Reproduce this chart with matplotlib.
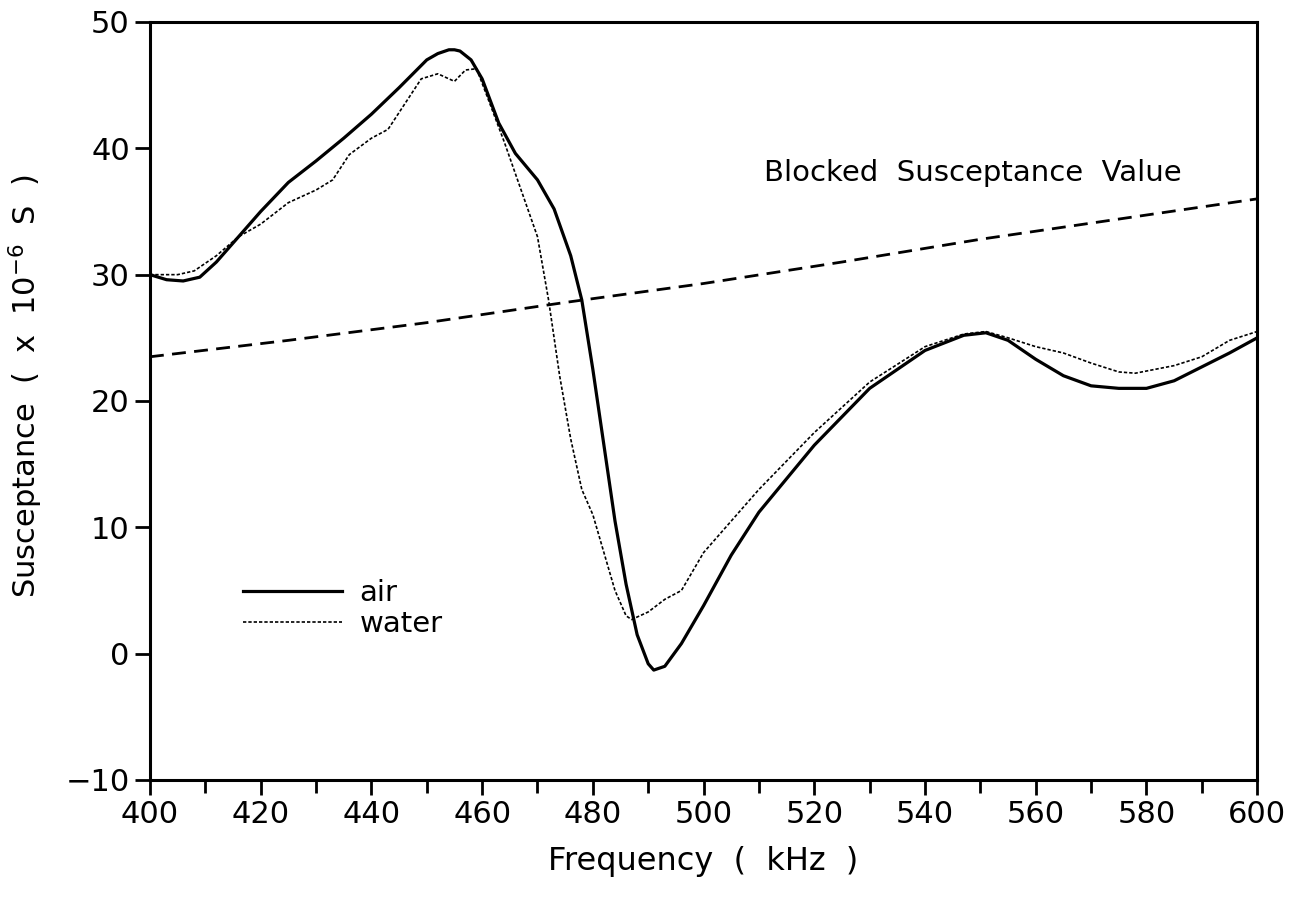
import matplotlib
matplotlib.use('Agg')
import matplotlib.pyplot as plt
import numpy as np

air_f = [400, 403, 406, 409, 412, 416, 420, 425, 430, 435, 440, 445, 450, 452, 454, 455, 456, 458,
         460, 463, 466, 470, 473, 476, 478, 480, 482, 484, 486, 488, 490, 491, 493, 496,
         500, 505, 510, 520, 530, 540, 547, 551, 555, 560, 565, 570, 575, 580, 585, 590, 595, 600]
air_b = [30.0, 29.6, 29.5, 29.8, 31.0, 33.0, 35.0, 37.3, 39.0, 40.8, 42.7, 44.8, 47.0, 47.5, 47.8, 47.8, 47.7, 47.0,
         45.5, 42.0, 39.6, 37.5, 35.2, 31.5, 28.0, 22.5, 16.5, 10.5, 5.5, 1.5, -0.8, -1.3, -1.0, 0.8,
         3.8, 7.8, 11.2, 16.5, 21.0, 24.0, 25.2, 25.4, 24.8, 23.3, 22.0, 21.2, 21.0, 21.0, 21.6, 22.7, 23.8, 25.0]

water_f = [400, 405, 408, 412, 416, 420, 425, 430, 433, 436, 440, 443, 446, 449, 452, 455, 457, 459,
           461, 464, 466, 468, 470, 472, 474, 476, 478, 480, 482, 484, 486, 487, 490, 493, 496,
           500, 505, 510, 520, 530, 540, 547, 551, 555, 560, 565, 570, 575, 578, 585, 590, 595, 600]
water_b = [30.0, 30.0, 30.3, 31.5, 33.0, 34.0, 35.7, 36.7, 37.5, 39.5, 40.8, 41.5, 43.5, 45.5, 45.9, 45.3, 46.2, 46.3,
           44.0, 40.5, 38.0, 35.5, 33.0, 28.0, 22.0, 17.0, 13.0, 11.0, 8.0, 5.0, 3.0, 2.7, 3.3, 4.3, 5.0,
           8.0, 10.5, 13.0, 17.5, 21.5, 24.3, 25.3, 25.5, 25.0, 24.3, 23.8, 23.0, 22.3, 22.2, 22.8, 23.5, 24.8, 25.5]

blocked_f = [400, 425, 450, 475, 500, 525, 550, 575, 600]
blocked_b = [23.5, 24.8, 26.2, 27.8, 29.3, 31.0, 32.8, 34.4, 36.0]

fig = plt.figure(figsize=(12.95, 9.01), dpi=100)
ax = fig.add_axes([0.1158, 0.1343, 0.855, 0.8413])

ax.plot(air_f, air_b, color='black', lw=2.3, label='air')
ax.plot(water_f, water_b, color='black', lw=1.2, linestyle=(0, (2, 1.2)), label='water')
ax.plot(blocked_f, blocked_b, color='black', lw=2.0, linestyle=(0, (5, 3)))

ax.text(0.555, 0.79, 'Blocked  Susceptance  Value', transform=ax.transAxes, fontsize=21)

ax.set_xlim(400, 600)
ax.set_ylim(-10, 50)
ax.set_xticks(np.arange(400, 601, 20))
ax.set_xticks(np.arange(410, 600, 20), minor=True)
ax.set_yticks(np.arange(-10, 51, 10))
ax.set_yticklabels(['\u221210', '0', '10', '20', '30', '40', '50'])
ax.tick_params(axis='both', which='both', direction='out', labelsize=22, width=2, top=False, right=False)
ax.tick_params(axis='both', which='major', length=11)
ax.tick_params(axis='x', which='minor', length=9)
for s in ax.spines.values():
    s.set_linewidth(2.2)

ax.set_xlabel('Frequency  (  kHz  )', fontsize=23, labelpad=12)
ax.set_ylabel('Susceptance  (  x  10$^{-6}$  S  )', fontsize=22)
ax.yaxis.set_label_coords(-0.095, 0.52)

ax.legend(loc='upper left', bbox_to_anchor=(0.06, 0.30), frameon=False, fontsize=21,
          handlelength=3.4, handletextpad=0.6, labelspacing=0.1)

fig.savefig('out.png', dpi=100)
